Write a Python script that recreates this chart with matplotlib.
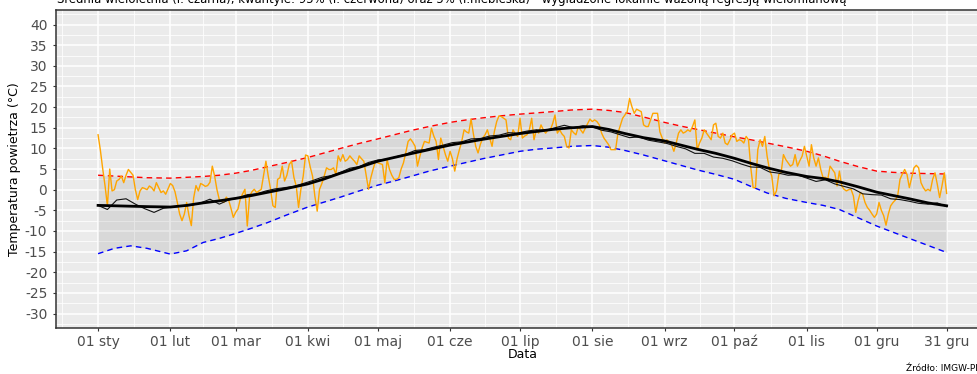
import numpy as np
import matplotlib.pyplot as plt

plt.rcParams['font.family'] = ['DejaVu Sans']
plt.rcParams['axes.unicode_minus'] = False

# --------------------------
# DATA (day of year, temperature in deg C)
# --------------------------
tick_days = [1, 32, 60, 91, 121, 152, 182, 213, 244, 274, 305, 335, 365]
tick_labels = ["01 sty", "01 lut", "01 mar", "01 kwi", "01 maj", "01 cze", "01 lip",
               "01 sie", "01 wrz", "01 paź", "01 lis", "01 gru", "31 gru"]

# smoothed curves (loess) sampled along the year
smooth_days = [1, 8, 15, 22, 32, 39, 46, 53, 60, 67, 74, 82, 91, 98, 105, 113, 121,
               128, 135, 143, 152, 159, 166, 174, 182, 189, 196, 204, 213, 220, 227,
               235, 244, 251, 258, 266, 274, 281, 288, 296, 305, 312, 319, 327, 335,
               342, 349, 357, 365]
q95 = [3.5, 3.3, 3.1, 2.9, 2.8, 3.0, 3.2, 3.5, 4.0, 4.7, 5.6, 6.6, 7.8, 8.9, 10.0,
       11.2, 12.3, 13.3, 14.3, 15.3, 16.3, 16.9, 17.4, 17.9, 18.3, 18.6, 18.9, 19.3,
       19.5, 19.2, 18.7, 17.6, 16.3, 15.4, 14.6, 13.7, 12.8, 12.1, 11.3, 10.4, 9.3,
       8.2, 6.9, 5.6, 4.5, 4.2, 4.0, 3.9, 3.8]
q05 = [-15.5, -14.2, -13.6, -14.2, -15.6, -14.8, -12.8, -11.8, -10.6, -9.3, -7.9,
       -6.1, -4.2, -3.0, -1.8, -0.3, 1.1, 2.1, 3.2, 4.5, 5.7, 6.6, 7.5, 8.4, 9.3, 9.8,
       10.1, 10.5, 10.7, 10.3, 9.5, 8.4, 7.0, 5.9, 4.8, 3.7, 2.5, 0.8, -0.8, -2.1,
       -3.1, -3.8, -4.8, -6.8, -8.8, -10.3, -11.8, -13.5, -15.2]
mean_smooth = [-3.8, -3.9, -4.0, -4.1, -4.2, -3.8, -3.2, -2.7, -2.1, -1.4, -0.6, 0.3,
               1.4, 2.6, 4.0, 5.4, 6.9, 7.8, 8.7, 9.7, 10.8, 11.5, 12.2, 12.9, 13.6,
               14.1, 14.6, 15.0, 15.3, 14.6, 13.6, 12.6, 11.8, 10.8, 9.8, 8.8, 7.6,
               6.4, 5.3, 4.2, 3.2, 2.7, 1.9, 0.7, -0.6, -1.4, -2.2, -3.2, -3.9]

# multi-year mean (raw), every 4 days
mean_days = list(range(1, 366, 4))
mean_raw = [-3.8, -4.8, -2.5, -2.2, -3.5, -4.6, -5.5, -4.5, -4.2, -4.0, -3.8, -3.2,
            -2.3, -3.5, -2.5, -2.0, -1.2, -1.0, -0.3, 0.2, 0.5, 0.8, 1.5, 2.2, 3.0,
            3.4, 4.2, 5.2, 5.6, 6.6, 7.2, 7.4, 8.0, 8.6, 9.5, 9.7, 10.3, 10.8, 11.4,
            11.6, 12.3, 12.4, 13.0, 13.2, 13.8, 13.7, 14.2, 14.5, 14.4, 15.0, 15.6,
            15.0, 15.5, 15.2, 14.4, 14.0, 13.3, 12.6, 12.8, 12.0, 11.6, 11.2, 10.5,
            9.9, 8.8, 8.8, 7.9, 7.6, 7.0, 6.2, 5.5, 5.4, 4.3, 4.0, 3.5, 3.6, 2.8, 2.0,
            2.4, 1.4, 0.8, 0.2, -1.0, -1.2, -1.3, -2.2, -2.4, -2.8, -3.3, -3.5, -3.2,
            -4.1]

# current year, daily
year_temp = [
    13.3, 9.5, 5.0, 0.9, -3.9, 5.0, -0.3, 0.0, 2.1, 2.5,
    3.3, 1.7, 3.5, 4.9, 4.2, 3.5, 0.0, -2.4, -0.3, 0.5,
    0.3, 0.0, 0.9, 0.5, -0.3, 1.7, 0.5, -0.7, -0.3, -1.1,
    0.2, 1.5, 1.0, -0.5, -3.1, -5.9, -7.5, -5.9, -3.1, -6.3,
    -8.7, -2.0, 1.0, -0.3, 1.5, 1.2, 0.8, 1.0, 1.8, 5.7,
    3.3, 0.0, -2.4, -2.8, -3.1, -1.8, -2.5, -4.5, -6.7, -5.5,
    -4.7, -2.3, -1.0, 0.1, -8.8, -1.6, -0.5, 0.1, -0.7, -0.3,
    0.1, 3.5, 6.9, 3.3, 0.1, -3.9, -4.3, 2.5, 2.9, 5.7,
    2.1, 3.5, 6.1, 6.9, 3.0, 0.9, -4.3, 0.1, 3.3, 8.4,
    8.2, 5.5, 3.3, -1.6, -5.2, 0.1, 1.5, 3.3, 5.3, 4.9,
    4.9, 5.3, 3.7, 8.2, 6.9, 8.5, 6.9, 7.3, 8.2, 7.5,
    6.9, 6.1, 8.2, 7.5, 6.9, 3.5, 0.1, 2.9, 5.0, 6.9,
    6.5, 6.3, 6.1, 1.7, 7.3, 4.9, 3.5, 2.5, 2.5, 2.9,
    5.0, 6.5, 9.0, 11.7, 12.3, 11.5, 10.5, 5.7, 8.0, 10.1,
    11.7, 11.5, 11.3, 14.9, 13.0, 11.7, 7.3, 12.5, 10.5, 8.5,
    6.9, 9.3, 7.5, 4.5, 7.5, 9.7, 11.7, 14.5, 14.0, 13.7,
    17.1, 13.5, 10.5, 8.9, 11.0, 12.5, 13.3, 14.5, 12.5, 10.5,
    14.1, 16.5, 17.9, 17.7, 17.3, 16.9, 12.5, 12.1, 14.5, 13.5,
    12.9, 17.3, 12.5, 13.0, 13.3, 14.5, 17.3, 12.1, 14.5, 13.7,
    15.7, 14.5, 13.7, 14.5, 14.5, 16.0, 18.1, 13.7, 14.5, 13.5,
    12.9, 10.5, 10.1, 14.5, 13.8, 13.3, 15.3, 14.5, 13.7, 14.9,
    16.0, 17.1, 16.5, 16.9, 16.5, 15.7, 13.7, 12.5, 11.7, 10.9,
    9.7, 9.7, 9.7, 13.7, 15.5, 17.3, 18.1, 18.9, 22.1, 20.1,
    18.5, 19.5, 19.2, 18.9, 15.7, 15.3, 15.3, 16.9, 18.5, 18.5,
    18.5, 14.0, 12.5, 11.3, 12.1, 11.5, 10.9, 9.3, 11.3, 13.7,
    14.5, 13.7, 14.0, 14.5, 14.1, 15.3, 16.9, 9.7, 11.3, 12.5,
    14.5, 13.7, 12.9, 12.1, 15.7, 16.1, 12.9, 12.5, 13.7, 11.3,
    10.9, 12.0, 13.3, 13.7, 11.7, 12.1, 11.9, 11.3, 12.9, 12.1,
    5.3, 0.5, 0.5, 9.7, 12.1, 10.5, 12.9, 8.1, 4.9, 3.3,
    -1.5, -0.3, 3.7, 4.1, 8.5, 7.3, 6.5, 5.7, 6.1, 8.5,
    5.7, 7.0, 8.1, 10.5, 8.1, 5.7, 10.9, 7.7, 5.7, 7.7,
    4.9, 2.9, 3.0, 2.5, 5.7, 4.9, 4.1, 0.9, 4.5, 0.9,
    0.1, -0.3, 0.0, 0.1, -1.5, -5.5, -2.7, -0.7, -1.1, -3.1,
    -4.3, -5.0, -5.9, -6.7, -5.9, -3.1, -5.0, -6.3, -8.6, -5.9,
    -3.9, -3.1, -2.5, -1.5, 2.5, 3.8, 4.9, 3.7, 0.5, 2.9,
    5.3, 5.9, 5.3, 1.7, 0.5, -0.3, 0.1, -0.3, 2.5, 4.1,
    1.3, -1.9, 0.9, 4.1, -0.9]
year_days = np.arange(1, len(year_temp) + 1)

title = ("Średnia wieloletnia (l. czarna), kwantyle: 95% (l. czerwona) oraz 5% "
         "(l.niebieska) - wygładzone lokalnie ważoną regresją wielomianową")

# --------------------------
# PLOT
# --------------------------
fig = plt.figure(figsize=(9.78, 3.74), dpi=100)
ax = fig.add_axes([0.0569, 0.123, 0.9544, 0.850])
ax.set_facecolor("#EBEBEB")

ax.fill_between(smooth_days, q05, q95, color="#808080", alpha=0.17, lw=0, zorder=2)
ax.plot(smooth_days, q95, color="red", ls=(0, (4, 3)), lw=1.0, zorder=3)
ax.plot(smooth_days, q05, color="blue", ls=(0, (4, 3)), lw=1.0, zorder=3)
ax.plot(year_days, year_temp, color="orange", lw=1.0, zorder=4)
ax.plot(mean_days, mean_raw, color="#111111", lw=0.8, zorder=5)
ax.plot(smooth_days, mean_smooth, color="black", lw=2.0, zorder=6)

# axes, grid
ax.set_xlim(1 - 18.2, 365 + 18.2)
ax.set_ylim(-33.5, 43.5)
ax.set_xticks(tick_days)
ax.set_xticklabels(tick_labels)
minor_x = [tick_days[0] - (tick_days[1] - tick_days[0]) / 2] + \
          [(a + b) / 2 for a, b in zip(tick_days[:-1], tick_days[1:])]
ax.set_xticks(minor_x, minor=True)
ax.set_yticks(np.arange(-30, 41, 5))
ax.set_yticks(np.arange(-32.5, 43, 5), minor=True)
ax.grid(which="major", color="white", lw=1.1)
ax.grid(which="minor", color="white", lw=0.55)
ax.set_axisbelow(True)
ax.tick_params(which="major", length=2.5, width=0.8, color="#333333",
               labelcolor="#4D4D4D", labelsize=10)
ax.tick_params(axis="x", which="major", pad=2.5)
ax.tick_params(which="minor", length=0)
for s in ax.spines.values():
    s.set_color("#333333")
    s.set_linewidth(1.1)

ax.set_xlabel("Data", fontsize=9, labelpad=-1)
ax.set_ylabel("Temperatura powietrza (°C)", fontsize=9, labelpad=3)

fig.text(57 / 978, 1 - 3.5 / 374, title, fontsize=8.4, ha="left", va="baseline")
fig.text(906 / 978, 1 - 371 / 374, "Źródło: IMGW-PIB", fontsize=6.5, ha="left",
         va="baseline")

fig.savefig("out.png", dpi=100)
